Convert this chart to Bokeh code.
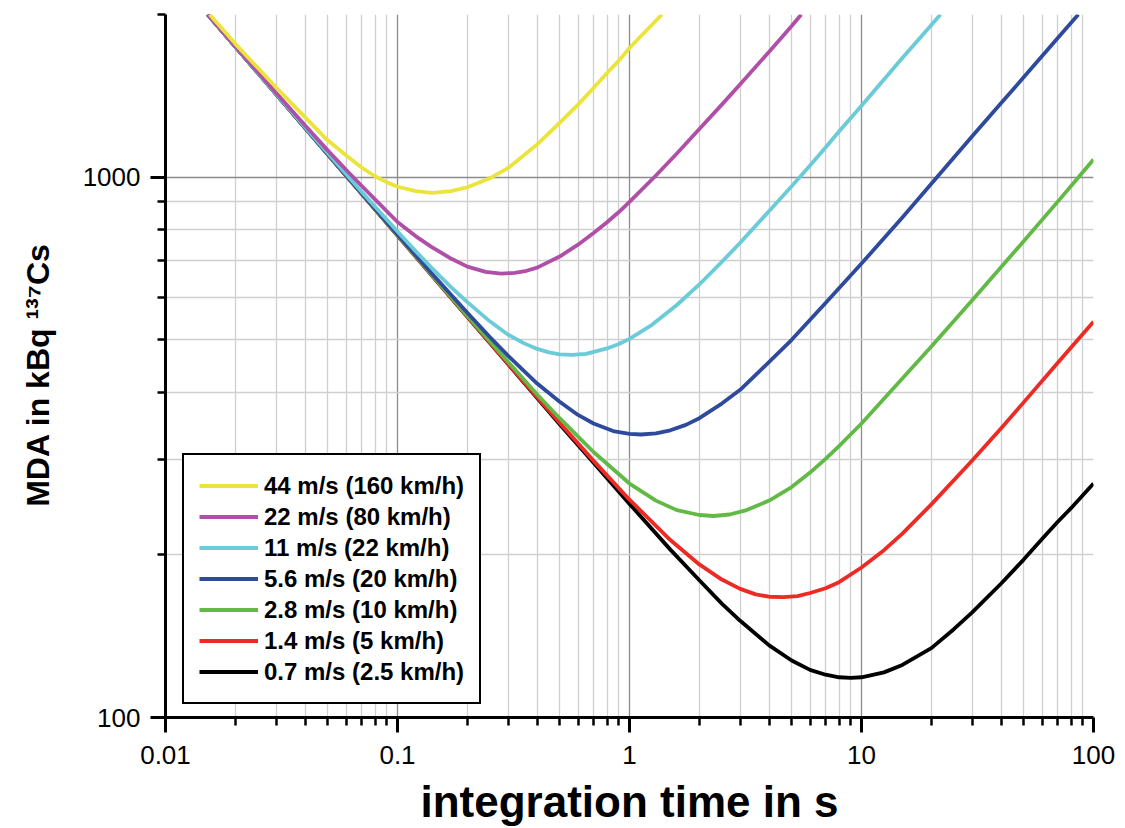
from bokeh.plotting import figure
from bokeh.models import FixedTicker, Legend, LegendItem, Range1d, CustomJSTickFormatter
from bokeh.embed import file_html
from bokeh.resources import INLINE

# ---------------- data ----------------
x_major = [0.01, 0.1, 1, 10, 100]
y_major = [100, 1000]
x_minor = [0.02, 0.03, 0.04, 0.05, 0.06, 0.07, 0.08, 0.09,
           0.2, 0.3, 0.4, 0.5, 0.6, 0.7, 0.8, 0.9,
           2, 3, 4, 5, 6, 7, 8, 9,
           20, 30, 40, 50, 60, 70, 80, 90]
y_minor = [200, 300, 400, 500, 600, 700, 800, 900, 2000]

x_title = "integration time in s"
y_title = "MDA in kBq \u00b9\u00b3\u2077Cs\u00a0\u00a0"

labels = ["44 m/s (160 km/h)", "22 m/s (80 km/h)", "11 m/s (22 km/h)",
          "5.6 m/s (20 km/h)", "2.8 m/s (10 km/h)", "1.4 m/s (5 km/h)",
          "0.7 m/s (2.5 km/h)"]
colors = ["#EBE43A", "#B04FA8", "#6BCBD8", "#2D4A9C", "#62B946", "#EE2A24", "#000000"]

yellow_x = [0.0155, 0.02, 0.03, 0.04, 0.05, 0.06, 0.07, 0.08, 0.09, 0.1, 0.12, 0.141,
            0.17, 0.2, 0.25, 0.3, 0.4, 0.5, 0.6, 0.7, 0.8, 0.9, 1.0, 1.2, 1.38]
yellow_y = [2000, 1765, 1465, 1290, 1170, 1098, 1042, 1004, 978, 960, 942, 935,
            942, 958, 995, 1040, 1150, 1260, 1362, 1462, 1559, 1643, 1734, 1880, 2000]

magenta_x = [0.0152, 0.02, 0.03, 0.04, 0.05, 0.06, 0.07, 0.08, 0.1, 0.12, 0.14, 0.17,
             0.2, 0.24, 0.28, 0.32, 0.36, 0.4, 0.5, 0.6, 0.7, 0.8, 0.9, 1.0, 1.3, 1.6,
             2, 2.5, 3, 4, 5, 5.5]
magenta_y = [2000, 1747, 1432, 1246, 1121, 1032, 964, 910, 826, 777, 743, 707,
             683, 668, 663, 665, 671, 680, 713, 750, 788, 825, 862, 900, 1007, 1106,
             1228, 1362, 1486, 1707, 1904, 2000]

cyan_x = [0.0152, 0.03, 0.05, 0.07, 0.1, 0.12, 0.14, 0.17, 0.2, 0.25, 0.3, 0.35, 0.4,
          0.45, 0.5, 0.565, 0.65, 0.8, 0.9, 1.0, 1.25, 1.6, 2, 2.5, 3, 4, 5, 6, 7, 8,
          10, 12.5, 15, 20, 21.9]
cyan_y = [2000, 1425, 1108, 940, 793, 729, 680, 626, 587, 541, 511, 493, 481,
          474, 470, 469, 471, 482, 491, 502, 533, 580, 633, 697, 756, 866, 962, 1051, 1135, 1215,
          1355, 1516, 1662, 1912, 2000]

blue_x = [0.0152, 0.03, 0.05, 0.07, 0.1, 0.14, 0.2, 0.25, 0.3, 0.4, 0.5, 0.6, 0.7, 0.85,
          1.0, 1.12, 1.3, 1.5, 1.75, 2, 2.5, 3, 4, 5, 7, 10, 15, 20, 30, 40, 50, 70, 86]
blue_y = [2000, 1424, 1104, 934, 783, 665, 561, 506, 467, 415, 384, 363, 350, 339,
          335, 334, 335.5, 340, 348, 358, 381, 404, 455, 500, 585, 692, 842, 972, 1190, 1372, 1530, 1808, 2000]

green_x = [0.0152, 0.03, 0.05, 0.1, 0.2, 0.3, 0.4, 0.5, 0.7, 1.0, 1.3, 1.6, 2.0, 2.3,
           2.7, 3.2, 4, 5, 6, 7, 8, 10, 15, 20, 30, 40, 50, 70, 100]
green_y = [2000, 1424, 1103, 781, 554, 455, 396, 358, 310, 271, 252, 242, 237, 236,
           237.5, 242, 252, 267, 284, 301, 318, 350, 424, 486, 592, 682, 761, 900, 1078]

red_x = [0.0152, 0.03, 0.05, 0.1, 0.2, 0.3, 0.5, 0.7, 1.0, 1.5, 2, 2.5, 3, 3.5, 4, 4.6,
         5.3, 6, 7, 8, 10, 12.5, 15, 20, 30, 40, 50, 70, 100]
red_y = [2000, 1424, 1103, 780, 552, 451, 351, 298.5, 253, 213, 192, 180, 173, 169, 167.3, 167,
         167.8, 170, 173.5, 178, 189.5, 204, 219, 248, 299, 343, 383, 453, 540]

black_x = [0.0152, 0.03, 0.05, 0.1, 0.2, 0.3, 0.5, 0.7, 1, 1.5, 2, 2.5, 3, 4, 5, 6, 7, 8,
           9, 10, 12.5, 15, 20, 25, 30, 40, 50, 60, 70, 80, 100]
black_y = [2000, 1424, 1103, 780, 551.5, 450.5, 349, 296, 248.5, 204.5, 179.5, 162.5, 151,
           136, 127.5, 122.5, 120, 118.7, 118.4, 118.7, 121.2, 125.1, 134.4, 145.7, 156.5,
           177, 196, 214, 230, 244, 271]

series_x = [yellow_x, magenta_x, cyan_x, blue_x, green_x, red_x, black_x]
series_y = [yellow_y, magenta_y, cyan_y, blue_y, green_y, red_y, black_y]

# ---------------- figure ----------------
FONT = "Liberation Sans"
p = figure(width=1125, height=828, x_axis_type="log", y_axis_type="log",
           x_range=Range1d(0.01, 100), y_range=Range1d(100, 2000),
           output_backend="svg", toolbar_location=None,
           min_border_left=165, min_border_right=32, min_border_top=14,
           min_border_bottom=111)
p.outline_line_color = None
p.background_fill_color = "white"
p.border_fill_color = "white"

p.xaxis.ticker = FixedTicker(ticks=x_major, minor_ticks=x_minor)
p.yaxis.ticker = FixedTicker(ticks=y_major, minor_ticks=y_minor)
p.xaxis.formatter = CustomJSTickFormatter(code="return tick.toString();")
p.yaxis.formatter = CustomJSTickFormatter(code="return tick.toString();")

for ax in (p.xaxis, p.yaxis):
    ax.axis_line_color = "black"
    ax.axis_line_width = 3
    ax.major_tick_line_color = "black"
    ax.major_tick_line_width = 3
    ax.major_tick_out = 15
    ax.major_tick_in = 0
    ax.minor_tick_line_color = "black"
    ax.minor_tick_line_width = 2.5
    ax.minor_tick_out = 8
    ax.minor_tick_in = 0
    ax.major_label_text_font = FONT
    ax.major_label_text_font_size = "26px"
    ax.major_label_text_color = "black"
    ax.axis_label_text_font = FONT
    ax.axis_label_text_font_style = "bold"
    ax.axis_label_text_color = "black"

p.xaxis.axis_label = x_title
p.xaxis.axis_label_text_font_size = "44px"
p.xaxis.major_label_standoff = 13
p.xaxis.axis_label_standoff = 10
p.yaxis.axis_label = y_title
p.yaxis.axis_label_text_font_size = "32px"
p.yaxis.major_label_standoff = 10
p.yaxis.axis_label_standoff = 24

for g in (p.xgrid, p.ygrid):
    g.grid_line_color = "#8c8c8c"
    g.grid_line_width = 1.3
    g.minor_grid_line_color = "#cfcfcf"
    g.minor_grid_line_width = 1.3

renderers = []
for xs, ys, c in zip(series_x, series_y, colors):
    renderers.append(p.line(xs, ys, line_color=c, line_width=3.8, line_join="round"))

# draw lowest curves first so that the yellow ends on top
order = list(reversed(renderers))
p.renderers = [r for r in p.renderers if r not in renderers] + order

legend = Legend(items=[LegendItem(label=l, renderers=[r]) for l, r in zip(labels, renderers)],
                location=(17, 13))
legend.label_text_font = FONT
legend.label_text_font_style = "bold"
legend.label_text_font_size = "24px"
legend.label_text_color = "black"
legend.glyph_width = 59
legend.glyph_height = 31
legend.label_height = 31
legend.label_standoff = 6
legend.spacing = 0
legend.padding = 15
legend.margin = 0
legend.border_line_color = "black"
legend.border_line_alpha = 1.0
legend.border_line_width = 2.5
legend.background_fill_color = "white"
legend.background_fill_alpha = 1.0
p.add_layout(legend)

open("out.html", "w").write(file_html(p, INLINE))
